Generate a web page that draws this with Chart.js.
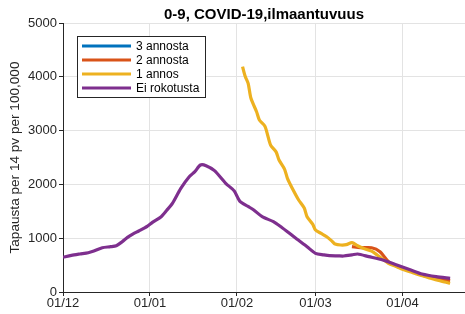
<!DOCTYPE html>
<html>
<head>
<meta charset="utf-8">
<script src="https://cdn.jsdelivr.net/npm/chart.js@4"></script>
<style>
html,body{margin:0;padding:0;background:#fff;}
#wrap{width:465px;height:314px;}
</style>
</head>
<body>
<div id="wrap"><canvas id="c" width="465" height="314"></canvas></div>
<script>
// Days counted from 01/12 (day 0)
const tickDays = [0, 31, 62, 90, 121];
const tickLabels = ['01/12', '01/01', '01/02', '01/03', '01/04'];
const yTicks = [0, 1000, 2000, 3000, 4000, 5000];
const seriesNames = ['3 annosta', '2 annosta', '1 annos', 'Ei rokotusta'];

const daysDose3 = [];
const valsDose3 = [];

const daysDose2 = [103, 106, 110, 113, 116, 118, 121, 124, 126, 129, 131, 134, 136, 138];
const valsDose2 = [842, 823, 823, 749, 563, 500, 440, 390, 350, 300, 273, 240, 225, 210];

const daysDose1 = [64, 65, 66, 67, 69, 70, 72, 74, 76, 77, 79, 80, 82, 84, 86, 87, 89, 90, 92, 94, 96, 97, 99, 101, 103, 105, 107, 110, 112, 114, 116, 119, 121, 124, 126, 129, 131, 134, 136, 138];
const valsDose1 = [4188, 4000, 3879, 3600, 3351, 3197, 3080, 2732, 2600, 2453, 2280, 2113, 1900, 1710, 1560, 1400, 1260, 1152, 1090, 1028, 940, 892, 874, 880, 917, 860, 812, 760, 688, 610, 533, 470, 421, 370, 335, 290, 254, 215, 185, 162];

const daysNone = [0, 3, 6, 9, 11, 14, 17, 19, 21, 23, 25, 27, 30, 32, 35, 37, 39, 42, 45, 47, 49, 51, 54, 58, 61, 63, 66, 68, 71, 75, 78, 80, 83, 87, 90, 93, 95, 98, 100, 103, 105, 109, 114, 119, 124, 128, 133, 138];
const valsNone = [645, 680, 706, 730, 762, 823, 842, 861, 930, 1016, 1080, 1134, 1220, 1300, 1400, 1520, 1648, 1927, 2143, 2236, 2360, 2348, 2255, 2020, 1880, 1690, 1590, 1524, 1400, 1307, 1200, 1121, 998, 842, 719, 690, 675, 672, 669, 690, 706, 657, 595, 502, 409, 335, 285, 254];

const colors = ['#0072BD', '#D95319', '#EDB120', '#7E2F8E'];
const FONT = '"Liberation Sans", Arial, Helvetica, sans-serif';

function pts(d, v) { return d.map((x, i) => ({x: x, y: v[i]})); }

const seriesData = [pts(daysDose3, valsDose3), pts(daysDose2, valsDose2), pts(daysDose1, valsDose1), pts(daysNone, valsNone)];

const datasets = seriesNames.map((n, i) => ({
  label: n,
  data: seriesData[i],
  borderColor: colors[i],
  backgroundColor: colors[i],
  borderWidth: 3.2,
  pointRadius: 0,
  tension: 0.25,
  fill: false,
  order: 3 - i
}));

const titleText = '0-9, COVID-19,ilmaantuvuus';

const overlay = {
  id: 'overlay',
  afterDraw(chart) {
    const ctx = chart.ctx;
    const ca = chart.chartArea;
    ctx.save();
    // title
    ctx.fillStyle = '#000';
    ctx.font = 'bold 15px ' + FONT;
    ctx.textAlign = 'center';
    ctx.textBaseline = 'middle';
    ctx.fillText(titleText, (ca.left + ca.right) / 2, 15);
    // legend
    const bx = 77, by = 36, bw = 128, bh = 61;
    ctx.fillStyle = '#fff';
    ctx.fillRect(bx, by, bw, bh);
    ctx.strokeStyle = '#262626';
    ctx.lineWidth = 1;
    ctx.strokeRect(bx + 0.5, by + 0.5, bw, bh);
    ctx.font = '12px ' + FONT;
    ctx.textAlign = 'left';
    chart.data.datasets.forEach((ds, i) => {
      const y = by + 10 + i * 14;
      ctx.strokeStyle = ds.borderColor;
      ctx.lineWidth = 3;
      ctx.beginPath();
      ctx.moveTo(82, y);
      ctx.lineTo(131, y);
      ctx.stroke();
      ctx.fillStyle = '#000';
      ctx.fillText(ds.label, 136, y + 0.5);
    });
    ctx.restore();
  }
};

new Chart(document.getElementById('c'), {
  type: 'line',
  data: { datasets: datasets },
  plugins: [overlay],
  options: {
    responsive: false,
    animation: false,
    layout: { padding: { top: 23, right: 0, left: 0, bottom: 0 } },
    plugins: { legend: { display: false }, title: { display: false }, tooltip: { enabled: false } },
    scales: {
      x: {
        type: 'linear',
        min: 0,
        max: 143.3,
        afterBuildTicks(scale) { scale.ticks = tickDays.map(v => ({value: v})); },
        afterFit(scale) { scale.height = 22; },
        ticks: {
          callback(v) { const i = tickDays.indexOf(v); return i >= 0 ? tickLabels[i] : ''; },
          color: '#262626',
          font: { family: FONT, size: 13 },
          padding: 0,
          maxRotation: 0,
          autoSkip: false
        },
        grid: { color: '#e3e3e3', tickColor: '#262626', tickLength: 4, lineWidth: 1 },
        border: { color: '#262626', width: 1 }
      },
      y: {
        min: 0,
        max: 5000,
        afterBuildTicks(scale) { scale.ticks = yTicks.map(v => ({value: v})); },
        afterFit(scale) { scale.width = 63; },
        ticks: {
          callback(v) { return String(v); },
          color: '#262626',
          font: { family: FONT, size: 13 },
          padding: 2
        },
        grid: { color: '#e3e3e3', tickColor: '#262626', tickLength: 4, lineWidth: 1 },
        border: { color: '#262626', width: 1 },
        title: {
          display: true,
          text: 'Tapausta per 14 pv per 100,000',
          color: '#262626',
          font: { family: FONT, size: 13.6 },
          padding: { top: 7, bottom: 0 }
        }
      }
    }
  }
});
</script>
</body>
</html>
